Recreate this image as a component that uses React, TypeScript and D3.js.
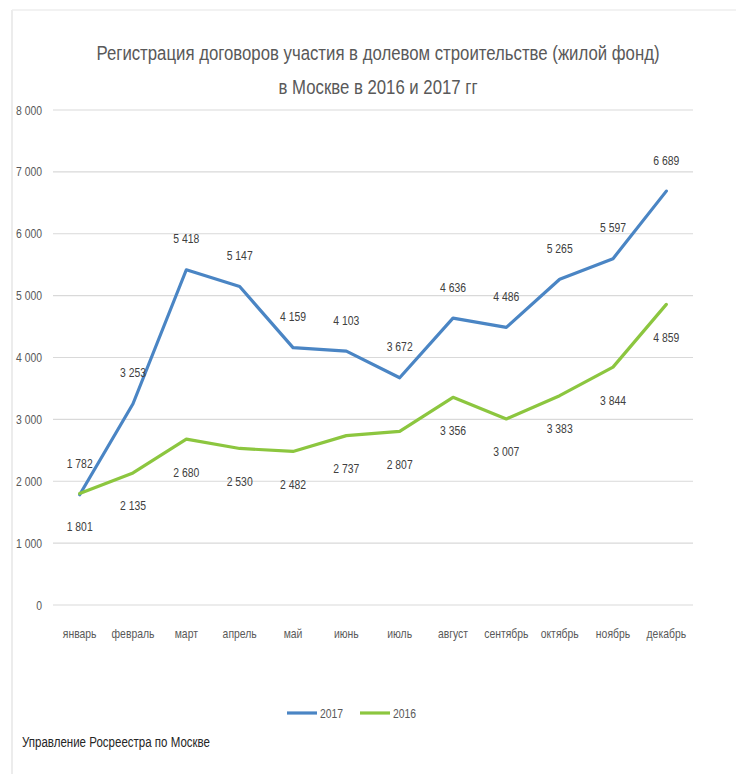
import React from "react";
import * as d3 from "d3";

const months = ["январь", "февраль", "март", "апрель", "май", "июнь", "июль", "август", "сентябрь", "октябрь", "ноябрь", "декабрь"];
const values2017 = [1782, 3253, 5418, 5147, 4159, 4103, 3672, 4636, 4486, 5265, 5597, 6689];
const values2016 = [1801, 2135, 2680, 2530, 2482, 2737, 2807, 3356, 3007, 3383, 3844, 4859];
const yTicks = [0, 1000, 2000, 3000, 4000, 5000, 6000, 7000, 8000];
const titleLines = ["Регистрация договоров участия в долевом строительстве (жилой фонд)", "в Москве в 2016 и 2017 гг"];
const footer = "Управление Росреестра по Москве";

const W = 736;
const H = 774;
const FONT = "'Liberation Sans', Arial, sans-serif";
const BLUE = "#4a85c4";
const GREEN = "#8cc63f";
const SX = 0.8;

const fmt = (v: number) => {
  const s = String(v);
  return s.length > 3 ? s.slice(0, s.length - 3) + "\u00a0" + s.slice(-3) : s;
};

function T(props: { x: number; y: number; anchor?: string; size: number; fill: string; children: React.ReactNode; weight?: number }) {
  return (
    <text
      transform={`translate(${props.x},${props.y}) scale(${SX},1)`}
      textAnchor={props.anchor ?? "start"}
      dy="0.35em"
      fontSize={props.size}
      fill={props.fill}
      fontWeight={props.weight ?? 400}
    >
      {props.children}
    </text>
  );
}

export default function App() {
  const x = d3.scaleBand<string>().domain(months).range([53, 693]);
  const y = d3.scaleLinear().domain([0, 8000]).range([605, 110]);
  const cx = (m: string) => (x(m) ?? 0) + x.bandwidth() / 2;
  const line = d3
    .line<number>()
    .x((_, i) => cx(months[i]))
    .y((d) => y(d));

  const series = [
    { name: "2017", values: values2017, color: BLUE, dy: -31 },
    { name: "2016", values: values2016, color: GREEN, dy: 33 },
  ];

  const titleWidths = [563, 199];

  return (
    <svg width={W} height={H} style={{ position: "absolute", left: 0, top: 0, background: "#fff" }} fontFamily={FONT}>
      <rect x={0} y={0} width={W} height={H} fill="#fff" />
      <line x1={12} x2={12} y1={10} y2={H} stroke="#e6e6e6" strokeWidth={1.5} />
      <line x1={12} x2={W} y1={10} y2={10} stroke="#eeeeee" strokeWidth={1.5} />
      {titleLines.map((t, i) => (
        <text
          key={t}
          x={378 - titleWidths[i] / 2}
          y={53 + i * 34}
          dy="0.35em"
          fontSize={20}
          fill="#595959"
          textLength={titleWidths[i]}
          lengthAdjust="spacingAndGlyphs"
        >
          {t}
        </text>
      ))}
      {yTicks.map((t) => (
        <g key={t}>
          <line x1={53} x2={693} y1={y(t)} y2={y(t)} stroke="#d9d9d9" strokeWidth={1.2} />
          <T x={42} y={y(t)} anchor="end" size={13} fill="#595959">
            {fmt(t)}
          </T>
        </g>
      ))}
      {months.map((m) => (
        <T key={m} x={cx(m)} y={633} anchor="middle" size={13} fill="#595959">
          {m}
        </T>
      ))}
      {series.map((s) => (
        <g key={s.name}>
          <path d={line(s.values) ?? ""} fill="none" stroke={s.color} strokeWidth={3.2} strokeLinejoin="round" strokeLinecap="round" />
          {s.values.map((v, i) => (
            <T key={i} x={cx(months[i])} y={y(v) + s.dy} anchor="middle" size={13} fill="#404040">
              {fmt(v)}
            </T>
          ))}
        </g>
      ))}
      {series.map((s, i) => (
        <g key={"lg" + s.name}>
          <line x1={287 + i * 73} x2={317 + i * 73} y1={713} y2={713} stroke={s.color} strokeWidth={3.2} />
          <T x={320 + i * 73} y={713} size={13} fill="#595959">
            {s.name}
          </T>
        </g>
      ))}
      <text x={22} y={742} dy="0.35em" fontSize={14} fill="#262626" textLength={188} lengthAdjust="spacingAndGlyphs">
        {footer}
      </text>
    </svg>
  );
}
